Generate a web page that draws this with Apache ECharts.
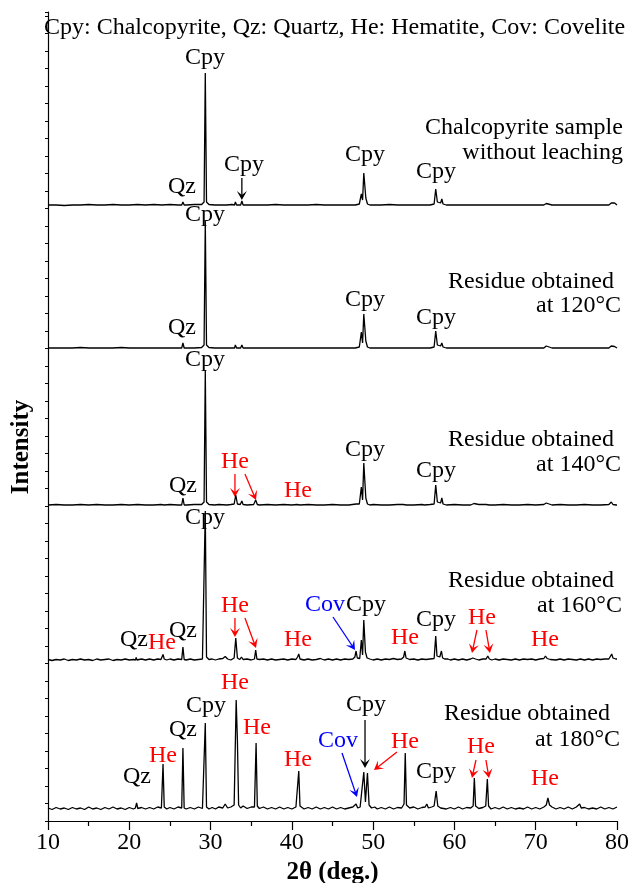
<!DOCTYPE html>
<html>
<head>
<meta charset="utf-8">
<script src="https://cdn.jsdelivr.net/npm/echarts@6/dist/echarts.min.js"></script>
<style>
  html, body { margin: 0; padding: 0; background: #ffffff; }
  #chart { width: 630px; height: 883px; }
</style>
</head>
<body>
<div id="chart"></div>
<script>
// XRD patterns, [2θ (deg.), intensity above the pattern's own baseline]
const sampleNames = ['Chalcopyrite sample without leaching', 'Residue obtained at 120°C',
  'Residue obtained at 140°C', 'Residue obtained at 160°C', 'Residue obtained at 180°C'];

// vertical stacking offset of every pattern (a.u.)
const traceOffsets = [615, 472, 315, 160, 11];

const xrdRaw = [
[10,1],[11,1],[12,0.5],[13,1],[14,1],[15,1.5],[16,1],[17,1],[18,1.5],[19,1],[20,1],[21,1.5],[22,1],[23,1.5],[24,1],[25,1.5],[26,1],[26.45,1],[26.6,4],[26.75,1],[27,1],[28,1.5],[28.9,1.5],[29.2,4],[29.35,133],[29.5,4],[29.8,1.5],[30.5,1],[31,1],[32,1],[32.6,1.5],[32.95,1],[33.05,4],[33.2,1],[33.7,1],[33.85,5],[34,1],[34.5,1],[35.4,1],[35.55,2.5],[35.7,1],[36,1],[37,1],[38,1.5],[39,1],[40,1],[41,1],[42,1],[43,1.5],[44,1],[45,1],[46,1],[47,1],[47.8,1],[48.3,2],[48.55,12],[48.7,6],[48.85,33],[49.1,8],[49.3,2],[49.6,1],[50,1],[51,1],[52,1.5],[53,1],[54,1],[55,1],[56,1],[56.1,2.5],[56.3,1],[57,1],[57.5,2],[57.7,17],[57.9,4],[58.3,3],[58.45,7],[58.6,2],[59,1],[60,1],[61,1],[62,1],[63,1],[64,1],[65,1],[66,1],[67,1],[68,1],[69,1],[70,1],[71,1],[71.3,2.5],[71.5,1],[72,1],[73,1],[74,1],[75,1],[76,1],[77,1],[78,1],[79,1],[79.3,3],[79.5,1],[79.7,3],[79.9,1],[80,1]
];

const xrd120 = [
[10,1],[11,1],[12,1],[13,1],[14,1.5],[15,1],[16,1],[17,1],[18,1],[19,1.5],[20,1],[21,1],[22,1],[23,1],[24,1],[25,1],[26,1],[26.45,1],[26.6,6],[26.75,1],[27,1],[28,1],[28.9,1.5],[29.2,4],[29.35,128],[29.5,4],[29.8,1.5],[30.5,1],[31,1],[32,1],[32.95,1],[33.05,4],[33.2,1],[33.7,1],[33.85,4],[34,1],[35.4,1],[35.55,2.5],[35.7,1],[36,1],[37,1],[38,1],[39,1],[40,1],[41,1],[42,1],[43,1],[44,1],[45,1],[46,1],[47,1],[47.8,1],[48.3,2],[48.55,17],[48.7,6],[48.85,35],[49.1,8],[49.3,2],[49.6,1],[50,1],[51,1],[52,1],[53,1],[54,1],[55,1],[56,1],[56.1,2],[56.3,1],[57,1],[57.5,2],[57.7,18],[57.9,4],[58.3,3],[58.45,6],[58.6,2],[59,1],[60,1],[61,1],[62,1],[63,1],[64,1],[65,1],[66,1],[67,1],[68,1],[69,1],[70,1],[71,1],[71.3,3],[71.5,1],[72,1],[73,1],[74,1],[75,1],[76,1],[77,1],[78,1],[79,1],[79.3,3],[79.5,1],[79.7,2.5],[79.9,1],[80,1]
];

const xrd140 = [
[10,1],[11,1.5],[12,1],[13,1],[14,1.5],[15,1],[16,1.5],[17,1],[18,1],[19,1.5],[20,1],[21,1.5],[22,1],[23,1],[23.9,1.5],[24.1,3],[24.3,1],[25,1.5],[26,1],[26.45,1],[26.6,8],[26.75,1],[27,1],[28,1.5],[28.9,1.5],[29.2,4],[29.35,136],[29.5,4],[29.8,1.5],[30.5,1],[31,1.5],[32,1],[32.5,1.5],[32.9,2],[33.1,11],[33.3,2],[33.65,1.5],[33.85,5],[34,1.5],[34.5,1],[35.3,1.5],[35.55,6],[35.75,1.5],[36,1],[37,1.5],[38,1],[39,1.5],[40,1],[40.6,1.5],[40.8,3.5],[41,1],[42,1.5],[43,1],[44,1],[45,1.5],[46,1],[47,1],[47.9,2],[48.3,2],[48.55,19],[48.7,6],[48.85,43],[49.1,8],[49.3,2],[49.6,1],[50,1.5],[51,1],[52,1],[53,1.5],[53.7,1.5],[53.9,3.5],[54.1,1],[55,1],[56,1.5],[56.1,2],[56.3,1],[57,1.5],[57.5,2],[57.7,21],[57.9,4],[58.3,3],[58.45,8],[58.6,2],[59,1],[60,1.5],[61,1],[62,1],[62.4,2.5],[62.6,1],[63,1.5],[63.9,1.5],[64.1,3],[64.3,1],[65,1],[66,1.5],[67,1],[68,1],[69,1.5],[70,1],[71,1.5],[71.3,3],[71.5,1],[72,1],[73,1.5],[74,1],[75,1],[76,1.5],[77,1],[78,1],[79,1.5],[79.3,4],[79.5,1.5],[79.7,3],[79.9,1],[80,1]
];

const xrd160 = [
[10,1.5],[10.5,0.5],[11,1.5],[11.5,1],[12,2],[12.5,0.5],[13,1.5],[13.5,1],[14,2],[14.5,1],[15,1.5],[15.5,0.5],[16,2],[16.5,1],[17,1.5],[17.5,2],[18,0.5],[18.5,1.5],[19,1],[19.5,2],[20,1],[20.5,1.5],[20.75,1],[20.85,3.5],[20.95,1],[21.5,2],[22,1],[22.5,2],[23,1],[23.5,2],[23.9,1.5],[24.05,3],[24.15,6.5],[24.3,2],[24.6,1],[25,2],[25.5,1],[26,2],[26.45,1.5],[26.6,14],[26.75,1.5],[27,1],[27.5,2],[28,1],[28.5,1.5],[29,2],[29.2,4],[29.35,150],[29.5,4],[29.8,1.5],[30.2,2],[30.6,1],[31,2],[31.5,2.5],[31.8,4.5],[32.1,2],[32.5,1],[32.9,3],[33.1,23],[33.3,3],[33.6,1.5],[33.8,4],[34,1.5],[34.5,2],[35,1],[35.4,2],[35.55,11],[35.7,2],[36,1.5],[36.5,2],[37,1],[37.5,2],[38,1],[38.5,1.5],[39,2],[39.5,1],[40,2],[40.5,1.5],[40.7,4],[40.85,7],[41,2],[41.5,1],[42,2],[42.5,1],[43,1.5],[43.5,2.5],[44,1],[44.5,2],[45,1],[45.5,2],[46,1],[46.5,2],[47,1.5],[47.5,2],[47.75,4],[47.9,10],[48.05,3],[48.35,2.5],[48.55,21],[48.7,6],[48.85,41],[49.05,9],[49.25,3],[49.6,2],[50,1],[50.5,2],[51,1],[51.5,2],[52,1.5],[52.5,2.5],[53,1.5],[53.5,2],[53.75,4],[53.9,10],[54.05,3],[54.5,1.5],[55,2],[55.5,1],[56,2],[56.5,1.5],[57,2],[57.5,2.5],[57.7,25],[57.85,5],[58.2,4],[58.4,10],[58.55,3],[58.8,2],[59,4],[59.2,2],[59.5,1],[60,2],[60.5,1],[61,2],[61.5,1],[62,2],[62.25,3],[62.4,4],[62.6,2],[63,1],[63.5,2],[63.9,2],[64.1,5],[64.3,2],[64.6,1],[65,2],[65.5,1],[66,2],[66.5,1.5],[67,1],[67.5,2],[68,1],[68.5,2],[69,1.5],[69.5,2],[70,1],[70.5,2],[71,2.5],[71.2,5],[71.4,2.5],[71.8,1.5],[72,2],[72.5,1],[73,2],[73.5,1],[74,2],[74.5,1.5],[75,1],[75.5,2],[76,1],[76.5,2],[77,1],[77.5,2],[78,1.5],[78.5,2],[79,2],[79.2,4],[79.35,7],[79.5,3],[79.7,5],[79.85,2],[80,2]
];

const xrd180 = [
[10,2],[10.5,0.5],[11,2.5],[11.5,1],[12,2],[12.5,0.5],[13,2.5],[13.5,1],[14,2],[14.5,0.5],[15,3],[15.5,1],[16,2],[16.5,0.5],[17,2.5],[17.5,1],[18,3],[18.5,1],[19,2],[19.5,0.5],[20,2.5],[20.5,1],[20.75,2],[20.9,7],[21.05,1.5],[21.5,2.5],[22,1],[22.5,2.5],[23,1],[23.5,3],[23.95,2],[24.15,46],[24.3,3],[24.6,1],[25,2.5],[25.5,1],[26,3],[26.45,2],[26.6,62],[26.75,2],[27,1],[27.5,2.5],[28,1],[28.5,3],[29,1.5],[29.2,3],[29.35,87],[29.5,3],[29.8,1],[30.2,2.5],[30.6,1],[31,3],[31.5,2],[31.8,6],[32.1,2],[32.5,3],[32.9,5],[33.15,110],[33.3,70],[33.45,5],[33.7,2],[34,4],[34.5,1.5],[35,3],[35.4,3],[35.6,67],[35.75,4],[36,1.5],[36.5,3],[37,1],[37.5,2.5],[38,1],[38.5,3],[39,1],[39.5,2.5],[40,1],[40.5,3],[40.7,5],[40.85,39],[41,4],[41.5,1],[42,2.5],[42.5,1],[43,3],[43.5,1],[44,2.5],[44.5,1],[45,3],[45.5,1],[46,2.5],[46.5,1],[47,2],[47.5,3],[47.9,6],[48.1,2],[48.4,3],[48.85,38],[49.05,8],[49.3,37],[49.5,5],[49.8,2],[50.2,3],[50.5,1],[51,2.5],[51.5,1],[52,3],[52.5,1],[53,2.5],[53.5,2],[53.8,6],[53.95,57],[54.1,5],[54.5,2],[55,3],[55.5,1],[56,2.5],[56.4,3],[56.6,6],[56.8,2],[57.2,3],[57.5,4],[57.75,19],[57.95,4],[58.3,2],[58.5,3],[59,1],[59.5,2.5],[60,1],[60.5,3],[61,1],[61.5,2.5],[62,2],[62.3,4],[62.45,32],[62.6,4],[63,1.5],[63.5,2.5],[63.85,4],[64.05,31],[64.2,4],[64.5,1],[65,2.5],[65.5,1],[66,3],[66.5,1],[67,2.5],[67.5,1],[68,2],[68.5,1],[69,3],[69.5,1],[70,2.5],[70.5,1],[71,3],[71.3,5],[71.5,12],[71.7,5],[72,3],[72.5,1],[73,2.5],[73.5,1],[74,3],[74.5,1],[75,3],[75.4,6],[75.6,2],[76,2.5],[76.5,1],[77,2],[77.5,1],[78,3],[78.5,1],[79,2.5],[79.5,1],[80,3]
];

const patterns = [xrdRaw, xrd120, xrd140, xrd160, xrd180];

const xTicks = [10, 20, 30, 40, 50, 60, 70, 80];

const FAMILY = 'Liberation Serif';
const FONT = '"Liberation Serif", "Times New Roman", Times, serif';
const RED = '#ff0000', BLUE = '#0000ff', BLACK = '#000000';

const chart = echarts.init(document.getElementById('chart'), null, { renderer: 'canvas' });

chart.setOption({
  animation: false,
  backgroundColor: '#ffffff',
  grid: { left: 48, right: 13, top: 12, bottom: 62, containLabel: false, outerBoundsMode: 'none' },
  xAxis: {
    type: 'value', min: xTicks[0], max: xTicks[xTicks.length - 1], interval: 10,
    name: '2θ (deg.)', nameLocation: 'middle', nameGap: 36,
    nameTextStyle: { fontFamily: FAMILY, fontSize: 25, fontWeight: 'bold', color: BLACK },
    axisLine: { lineStyle: { color: BLACK, width: 1.2 } },
    axisTick: { inside: false, length: 9, lineStyle: { color: BLACK, width: 1.2 } },
    minorTick: { show: true, splitNumber: 2, length: 5, lineStyle: { color: BLACK, width: 1.2 } },
    axisLabel: { fontFamily: FAMILY, fontSize: 24, color: BLACK, margin: 10 },
    splitLine: { show: false }
  },
  yAxis: {
    type: 'value', min: 0, max: 809, interval: 17.5,
    axisLine: { show: true, lineStyle: { color: BLACK, width: 1.2 } },
    axisTick: { show: true, inside: false, length: 3, lineStyle: { color: BLACK, width: 1 } },
    axisLabel: { show: false },
    splitLine: { show: false }
  },
  series: patterns.map((p, i) => ({
    name: sampleNames[i],
    type: 'line',
    data: p.map(d => [d[0], d[1] + traceOffsets[i]]),
    symbol: 'none',
    showSymbol: false,
    silent: true,
    clip: true,
    lineStyle: { color: BLACK, width: 1.3 }
  }))
});

// phase labels: [text, 2θ, y (a.u.), colour]
const phaseLabels = [
  ['Cpy', 29.31, 763, BLACK], ['Qz', 26.48, 634, BLACK], ['Cpy', 34.11, 656, BLACK],
  ['Cpy', 49.0, 666, BLACK], ['Cpy', 57.73, 649, BLACK],

  ['Cpy', 29.31, 606, BLACK], ['Qz', 26.48, 493, BLACK], ['Cpy', 49.0, 521, BLACK], ['Cpy', 57.73, 503, BLACK],

  ['Cpy', 29.31, 461, BLACK], ['Qz', 26.6, 335, BLACK], ['He', 33.0, 359, RED], ['He', 40.75, 330, RED],
  ['Cpy', 49.0, 371, BLACK], ['Cpy', 57.73, 350, BLACK],

  ['Cpy', 29.31, 303, BLACK], ['Qz', 20.58, 181, BLACK], ['He', 24.02, 178, RED], ['Qz', 26.6, 190, BLACK],
  ['He', 33.0, 215, RED], ['He', 40.75, 181, RED], ['Cov', 44.07, 216, BLUE], ['Cpy', 49.12, 216, BLACK],
  ['He', 53.92, 183, RED], ['Cpy', 57.73, 201, BLACK], ['He', 63.39, 203, RED], ['He', 71.14, 181, RED],

  ['Qz', 20.95, 44, BLACK], ['He', 24.15, 65, RED], ['Qz', 26.6, 91, BLACK], ['Cpy', 29.44, 115, BLACK],
  ['He', 33.0, 138, RED], ['He', 35.71, 93, RED], ['He', 40.75, 61, RED], ['Cov', 45.67, 80, BLUE],
  ['Cpy', 49.12, 116, BLACK], ['He', 53.92, 79, RED], ['Cpy', 57.73, 49, BLACK], ['He', 63.27, 74, RED],
  ['He', 71.14, 42, RED]
];

// pointer arrows: [from 2θ, from y, to 2θ, to y, colour]
const pointerArrows = [
  [33.85, 643, 33.85, 621, BLACK],
  [33.0, 347, 33.0, 324, RED], [34.23, 347, 35.59, 321, RED],
  [33.0, 203, 33.0, 184, RED], [34.23, 203, 35.59, 173, RED],
  [45.06, 204, 47.77, 171, BLUE],
  [62.77, 191, 62.16, 168, RED], [63.88, 191, 64.37, 168, RED],
  [46.17, 68, 48.01, 24, BLUE],
  [49.0, 101, 49.0, 53, BLACK],
  [52.93, 69, 50.1, 51, RED],
  [62.65, 61, 62.16, 43, RED], [63.88, 61, 64.25, 43, RED]
];

// sample captions: [line, right-edge 2θ, y (a.u.)]
const captions = [
  ['Chalcopyrite sample', 80.73, 693], ['without leaching', 80.73, 668],
  ['Residue obtained', 79.63, 539], ['at 120°C', 80.49, 515],
  ['Residue obtained', 79.63, 381], ['at 140°C', 80.49, 356],
  ['Residue obtained', 79.63, 240], ['at 160°C', 80.61, 215],
  ['Residue obtained', 79.14, 107], ['at 180°C', 80.37, 81]
];

function toPx(x, y) { return chart.convertToPixel({ gridIndex: 0 }, [x, y]); }

const graphics = [];

graphics.push({
  type: 'text', x: 44, y: 28,
  style: { text: 'Cpy: Chalcopyrite, Qz: Quartz, He: Hematite, Cov: Covelite',
    font: '24px ' + FONT, fill: BLACK, textAlign: 'left', textVerticalAlign: 'middle' }
});

graphics.push({
  type: 'text', x: 22, y: 447, rotation: Math.PI / 2,
  style: { text: 'Intensity', font: 'bold 25px ' + FONT, fill: BLACK,
    textAlign: 'center', textVerticalAlign: 'middle' }
});

phaseLabels.forEach(([t, x, y, c]) => {
  const p = toPx(x, y);
  graphics.push({ type: 'text', x: p[0], y: p[1],
    style: { text: t, font: '24px ' + FONT, fill: c, textAlign: 'center', textVerticalAlign: 'middle' } });
});

captions.forEach(([t, x, y]) => {
  const p = toPx(x, y);
  graphics.push({ type: 'text', x: p[0], y: p[1],
    style: { text: t, font: '24px ' + FONT, fill: BLACK, textAlign: 'right', textVerticalAlign: 'middle' } });
});

pointerArrows.forEach(([x1, y1, x2, y2, c]) => {
  const a = toPx(x1, y1), b = toPx(x2, y2);
  const ang = Math.atan2(b[1] - a[1], b[0] - a[0]);
  const ux = Math.cos(ang), uy = Math.sin(ang), nx = -uy, ny = ux;
  const len = 9, half = 5, notch = 5;
  graphics.push({ type: 'line', shape: { x1: a[0], y1: a[1], x2: b[0] - ux * 3, y2: b[1] - uy * 3 },
    style: { stroke: c, lineWidth: 1.3 } });
  graphics.push({ type: 'polygon', shape: { points: [
      [b[0], b[1]],
      [b[0] - ux * len + nx * half, b[1] - uy * len + ny * half],
      [b[0] - ux * notch, b[1] - uy * notch],
      [b[0] - ux * len - nx * half, b[1] - uy * len - ny * half]
    ] }, style: { fill: c } });
});

chart.setOption({ graphic: { elements: graphics } });
</script>
</body>
</html>
